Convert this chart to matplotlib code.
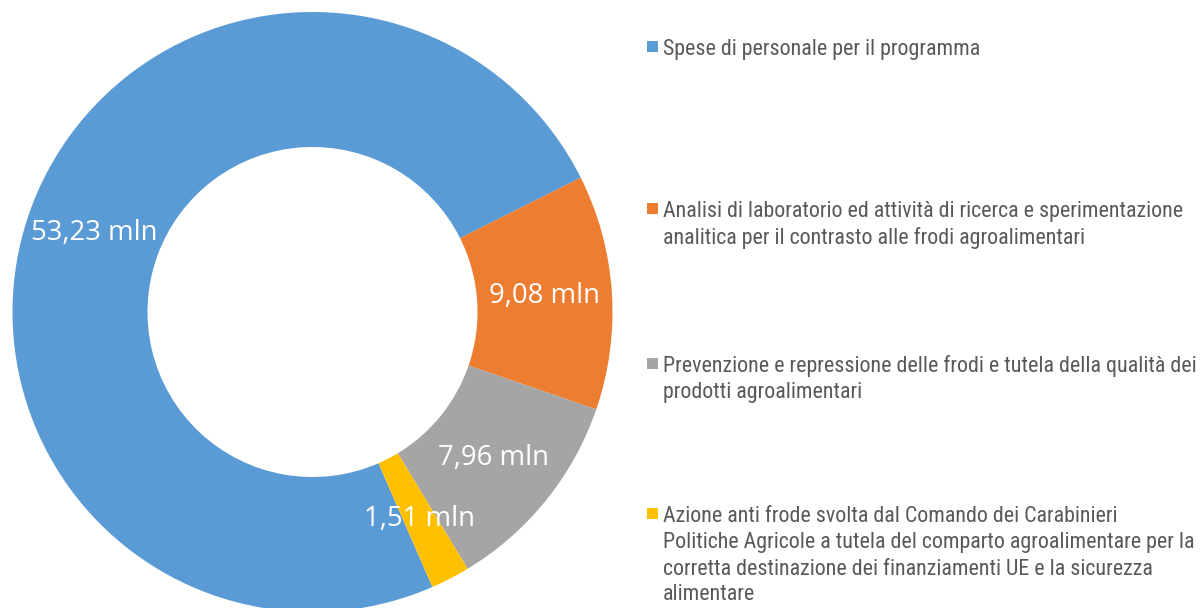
import matplotlib
matplotlib.use("Agg")
import matplotlib.pyplot as plt
from matplotlib import font_manager
from matplotlib.patches import Rectangle

values = [53.23, 9.08, 7.96, 1.51]
value_labels = ["53,23 mln", "9,08 mln", "7,96 mln", "1,51 mln"]
categories = [
    ["Spese di personale per il programma"],
    ["Analisi di laboratorio ed attività di ricerca e sperimentazione",
     "analitica per il contrasto alle frodi agroalimentari"],
    ["Prevenzione e repressione delle frodi e tutela della qualità dei",
     "prodotti agroalimentari"],
    ["Azione anti frode svolta dal Comando dei Carabinieri",
     "Politiche Agricole a tutela del comparto agroalimentare per la",
     "corretta destinazione dei finanziamenti UE e la sicurezza",
     "alimentare"],
]
colors = ["#5B9BD5", "#ED7D31", "#A5A5A5", "#FFC000"]

# pick a narrow font if one is installed
entries = font_manager.fontManager.ttflist
names = {f.name for f in entries}
legend_props = None
for cand in ["Liberation Sans Narrow", "Arial Narrow", "Roboto Condensed"]:
    if cand in names:
        legend_props = dict(family=cand, fontsize=15.8)
        break
if legend_props is None:
    cond = [f for f in entries if str(f.stretch) in ("condensed", "semi-condensed", "500", "600")
            and f.name in ("Roboto", "Open Sans", "DejaVu Sans", "Noto Sans")]
    if cond:
        legend_props = dict(family=cond[0].name, fontstretch=str(cond[0].stretch), fontsize=15)
    else:
        legend_props = dict(family="Liberation Sans", fontsize=14.2)

label_font = "Open Sans"

W, H = 1203, 608
fig = plt.figure(figsize=(W / 100, H / 100), dpi=100)

cx, cy, R = 312.5, 312, 300
ax = fig.add_axes([(cx - R) / W, (H - cy - R) / H, 2 * R / W, 2 * R / H])

wedges, texts = ax.pie(values, colors=colors, startangle=293.56, counterclock=False,
                       radius=1, wedgeprops=dict(width=0.45, linewidth=0),
                       labels=value_labels, labeldistance=0.775)
ax.set_xlim(-1, 1)
ax.set_ylim(-1, 1)
ax.set_aspect("auto")
ax.axis("off")
for t in texts:
    t.set_ha("center")
    t.set_va("center")
    t.set_color("white")
    t.set_fontsize(19.8)
    t.set_family(label_font)

baselines = [[55], [217, 244], [372, 398], [522, 548, 575, 600]]
text_x = 663
for lines, ys, col in zip(categories, baselines, colors):
    y0 = ys[0]
    fig.patches.append(Rectangle((647 / W, (H - y0 + 3) / H), 11 / W, 11 / H,
                                 transform=fig.transFigure, color=col, lw=0))
    for line, y in zip(lines, ys):
        fig.text(text_x / W, (H - y) / H, line, ha="left", va="baseline",
                 color="#595959", **legend_props)

fig.savefig("out.png", dpi=100)
